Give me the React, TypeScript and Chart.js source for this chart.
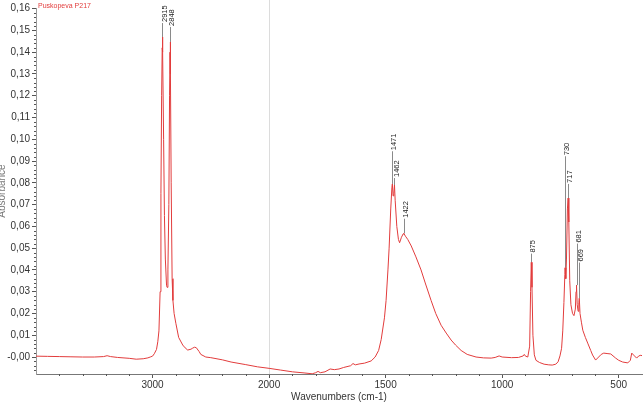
import { useEffect, useRef } from 'react';
import { Chart, registerables } from 'chart.js';

Chart.register(...registerables);

// ---- data -------------------------------------------------------------
const sampleName = 'Puskopeva P217';
const xTitle = 'Wavenumbers (cm-1)';
const yTitle = 'Absorbance';

const wavenumbers = [
  4000, 3900, 3800, 3700, 3600, 3500, 3420, 3390, 3360, 3300, 3200, 3140, 3080, 3040, 3020,
  3000, 2985, 2966, 2955, 2945, 2935, 2928, 2922, 2917, 2915, 2912, 2905, 2898, 2890, 2880,
  2875, 2868, 2860, 2854, 2850, 2848, 2845, 2840, 2832, 2825, 2815, 2800, 2776, 2741, 2720,
  2698, 2670, 2655, 2640, 2625, 2600, 2586, 2543, 2500, 2400, 2326, 2200, 2100, 2000, 1950,
  1900, 1850, 1815, 1800, 1790, 1780, 1760, 1738, 1720, 1700, 1680, 1650, 1640, 1630, 1614,
  1590, 1562, 1545, 1530, 1519, 1505, 1498, 1490, 1485, 1478, 1473, 1471, 1468, 1465, 1462,
  1459, 1452, 1445, 1440, 1432, 1425, 1422, 1415, 1405, 1390, 1370, 1348, 1330, 1305, 1285,
  1262, 1240, 1219, 1200, 1176, 1150, 1112, 1080, 1047, 1030, 1013, 1000, 960, 930, 910,
  905, 900, 890, 882, 878, 875, 872, 868, 862, 855, 840, 820, 800, 785, 770,
  760, 752, 745, 740, 735, 731, 730, 727, 724, 720, 717, 714, 710, 705, 698,
  692, 686, 683, 681, 678, 674, 671, 669, 666, 660, 654, 643, 633, 620, 612,
  599, 586, 575, 564, 550, 534, 513, 500, 483, 461, 450, 444, 436, 423, 414,
  405, 400,
];

const absorbance = [
  0.0004, 0.0003, 0.0002, 0.0001, 0.0, 0.0, 0.0002, 0.0006, 0.0002, -0.0002, -0.0006, -0.001, -0.0008, -0.0004, 0.0,
  0.0004, 0.0015, 0.0035, 0.007, 0.012, 0.03, 0.075, 0.12, 0.142, 0.147, 0.14, 0.1, 0.065, 0.045, 0.033,
  0.032, 0.04, 0.07, 0.12, 0.14, 0.1447, 0.13, 0.08, 0.036, 0.026, 0.02, 0.0155, 0.009, 0.0055, 0.0042,
  0.0032, 0.0036, 0.0041, 0.0045, 0.0043, 0.0025, 0.0012, 0.0, -0.0003, -0.0013, -0.0023, -0.0035, -0.0045, -0.0052, -0.006,
  -0.0068, -0.0073, -0.0077, -0.0072, -0.0066, -0.0072, -0.0068, -0.0055, -0.0058, -0.0055, -0.0048, -0.004, -0.003, -0.0036, -0.0032,
  -0.0028, -0.0018, 0.0, 0.003, 0.008, 0.018, 0.026, 0.04, 0.05, 0.068, 0.078, 0.0795, 0.074, 0.075, 0.079,
  0.072, 0.06, 0.054, 0.0525, 0.055, 0.0565, 0.0568, 0.0555, 0.054, 0.051, 0.046, 0.04, 0.034, 0.026, 0.02,
  0.0146, 0.011, 0.0078, 0.0055, 0.003, 0.0012, 0.0, -0.0004, -0.0005, -0.0002, 0.0005, 0.0, -0.0003, -0.0002, 0.0005,
  0.0012, 0.0004, 0.0, 0.005, 0.03, 0.0435, 0.032, 0.01, 0.001, -0.0015, -0.0025, -0.0033, -0.0036, -0.0037, -0.0033,
  -0.0022, 0.0005, 0.004, 0.012, 0.025, 0.038, 0.041, 0.036, 0.045, 0.068, 0.073, 0.062, 0.035, 0.024, 0.02,
  0.019, 0.022, 0.03, 0.033, 0.024, 0.021, 0.025, 0.027, 0.02, 0.016, 0.0123, 0.009, 0.0064, 0.003, 0.0009,
  -0.0014, 0.0, 0.0012, 0.0018, 0.0016, 0.0014, -0.0005, -0.0015, -0.0023, -0.0027, -0.0015, 0.0018, 0.0009, -0.0005, 0.0005,
  0.0008, 0.0006,
];

const peakLabels = ['2915', '2848', '1471', '1462', '1422', '875', '730', '717', '681', '669'];
const peakWavenumbers = [2915, 2848, 1471, 1462, 1422, 875, 730, 717, 681, 669];
const peakHeights = [0.147, 0.1447, 0.0795, 0.079, 0.0568, 0.0435, 0.041, 0.073, 0.033, 0.027];
const peakLabelLevels = [0.1534, 0.1516, 0.0945, 0.0822, 0.0635, 0.0475, 0.0922, 0.0795, 0.0521, 0.0434];

const xTickValues = [3000, 2000, 1500, 1000, 500];
const yTickValues = [0, 0.01, 0.02, 0.03, 0.04, 0.05, 0.06, 0.07, 0.08, 0.09, 0.1, 0.11, 0.12, 0.13, 0.14, 0.15, 0.16];
const xRange = [4000, 400];
const yRange = [-0.0078, 0.1603];
const scaleBreak = 2000;

// ---- helpers ----------------------------------------------------------
// axis is compressed 2x above the break (as in the instrument software)
const toAxis = (w: number) => (w <= scaleBreak ? w : scaleBreak + (w - scaleBreak) / 2);
const fromAxis = (u: number) => (u <= scaleBreak ? u : scaleBreak + (u - scaleBreak) * 2);

const FONT = '"Liberation Sans", Arial, sans-serif';
const RED = '#e23c3c';

const decorPlugin = {
  id: 'decor',
  beforeDatasetsDraw(chart: any) {
    const { ctx, chartArea } = chart;
    const xs = chart.scales.x;
    const ys = chart.scales.y;
    ctx.save();
    // break line at 2000
    const bx = Math.round(xs.getPixelForValue(toAxis(scaleBreak))) + 0.5;
    ctx.strokeStyle = '#dcdcdc';
    ctx.lineWidth = 1;
    ctx.beginPath();
    ctx.moveTo(bx, 0);
    ctx.lineTo(bx, chartArea.bottom);
    ctx.stroke();
    // peak leader lines
    ctx.strokeStyle = '#8a8a8a';
    peakWavenumbers.forEach((w, i) => {
      const x = Math.round(xs.getPixelForValue(toAxis(w))) + 0.5;
      const y0 = ys.getPixelForValue(peakHeights[i]);
      const y1 = ys.getPixelForValue(peakLabelLevels[i]);
      ctx.beginPath();
      ctx.moveTo(x, y0);
      ctx.lineTo(x, y1);
      ctx.stroke();
    });
    ctx.restore();
  },
  afterDraw(chart: any) {
    const { ctx, chartArea } = chart;
    const xs = chart.scales.x;
    const ys = chart.scales.y;
    ctx.save();
    // minor ticks on y
    ctx.strokeStyle = '#555';
    ctx.lineWidth = 1;
    for (let k = -3; k <= 80; k++) {
      if (k % 5 === 0) continue;
      const v = k * 0.002;
      if (v < yRange[0] || v > yRange[1]) continue;
      const y = Math.round(ys.getPixelForValue(v)) + 0.5;
      ctx.beginPath();
      ctx.moveTo(chartArea.left - 2, y);
      ctx.lineTo(chartArea.left, y);
      ctx.stroke();
    }
    // minor ticks on x (every 100 axis units)
    for (let u = 500; u <= 2900; u += 100) {
      if (xTickValues.some((w) => toAxis(w) === u)) continue;
      const x = Math.round(xs.getPixelForValue(u)) + 0.5;
      ctx.beginPath();
      ctx.moveTo(x, chartArea.bottom);
      ctx.lineTo(x, chartArea.bottom + 2);
      ctx.stroke();
    }
    // peak labels
    ctx.fillStyle = '#222';
    ctx.font = `7.5px ${FONT}`;
    ctx.textAlign = 'left';
    ctx.textBaseline = 'middle';
    peakWavenumbers.forEach((w, i) => {
      const x = xs.getPixelForValue(toAxis(w));
      const y1 = ys.getPixelForValue(peakLabelLevels[i]);
      ctx.save();
      ctx.translate(x + 2, y1 - 1);
      ctx.rotate(-Math.PI / 2);
      ctx.fillText(peakLabels[i], 0, 0);
      ctx.restore();
    });
    // sample name
    ctx.fillStyle = RED;
    ctx.font = `7px ${FONT}`;
    ctx.textBaseline = 'middle';
    ctx.fillText(sampleName, chartArea.left + 2, 6);
    // axis titles
    ctx.fillStyle = '#333';
    ctx.font = `10px ${FONT}`;
    ctx.textAlign = 'center';
    ctx.fillText(xTitle, (chartArea.left + chartArea.right) / 2, 397);
    ctx.save();
    ctx.translate(2, (chartArea.top + chartArea.bottom) / 2);
    ctx.rotate(-Math.PI / 2);
    ctx.fillStyle = '#777';
    ctx.fillText(yTitle, 0, 0);
    ctx.restore();
    ctx.restore();
  },
};

export default function App() {
  const canvasRef = useRef<HTMLCanvasElement | null>(null);

  useEffect(() => {
    document.body.style.margin = '0';
    const canvas = canvasRef.current;
    if (!canvas) return;
    const points = wavenumbers.map((w, i) => ({ x: toAxis(w), y: absorbance[i] }));
    const chart = new Chart(canvas, {
      type: 'line',
      data: {
        datasets: [
          {
            data: points,
            borderColor: RED,
            borderWidth: 1,
            pointRadius: 0,
            tension: 0,
            fill: false,
          },
        ],
      },
      options: {
        animation: false,
        responsive: false,
        devicePixelRatio: 1,
        layout: { padding: { top: 6, right: 1, left: 0, bottom: 0 } },
        plugins: { legend: { display: false }, tooltip: { enabled: false } },
        scales: {
          x: {
            type: 'linear',
            reverse: true,
            min: toAxis(xRange[1]),
            max: toAxis(xRange[0]),
            afterBuildTicks: (scale: any) => {
              scale.ticks = xTickValues.map((w) => ({ value: toAxis(w) }));
            },
            afterFit: (scale: any) => {
              scale.height = 28;
            },
            ticks: {
              autoSkip: false,
              maxRotation: 0,
              padding: 1,
              color: '#333',
              font: { family: FONT, size: 10 },
              callback: (v: any) => String(Math.round(fromAxis(Number(v)))),
            },
            grid: { drawOnChartArea: false, tickLength: 4, color: '#555' },
            border: { display: true, color: '#777' },
          },
          y: {
            type: 'linear',
            min: yRange[0],
            max: yRange[1],
            afterBuildTicks: (scale: any) => {
              scale.ticks = yTickValues.map((v) => ({ value: v }));
            },
            afterFit: (scale: any) => {
              scale.width = 36;
            },
            ticks: {
              autoSkip: false,
              padding: 2,
              color: '#333',
              font: { family: FONT, size: 10 },
              callback: (v: any) => {
                const n = Number(v);
                if (Math.abs(n) < 1e-9) return '-0,00';
                return n.toFixed(2).replace('.', ',');
              },
            },
            grid: { drawOnChartArea: false, tickLength: 4, color: '#555' },
            border: { display: true, color: '#999' },
          },
        },
      },
      plugins: [decorPlugin],
    });
    return () => chart.destroy();
  }, []);

  return (
    <div style={{ width: 643, height: 402, background: '#fff' }}>
      <canvas ref={canvasRef} width={643} height={402} style={{ display: 'block' }} />
    </div>
  );
}
